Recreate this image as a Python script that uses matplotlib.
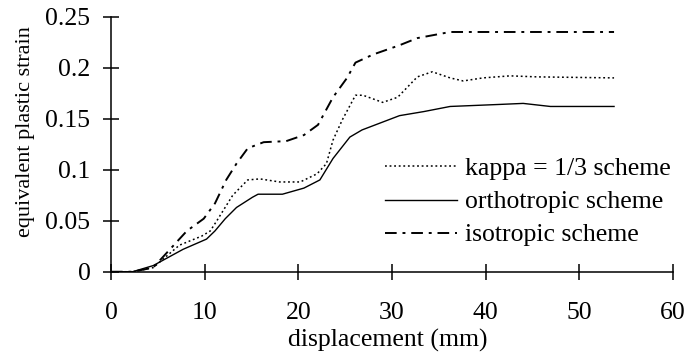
import matplotlib
matplotlib.use("Agg")
import matplotlib.pyplot as plt

# displacement (mm) / equivalent plastic strain
x_kappa = [0, 2.3, 4.5, 7.3, 9.7, 10.6, 11.3, 13.0, 14.6, 15.9, 18.0, 20.2, 22.0, 23.0,
           23.7, 24.7, 26.1, 26.9, 29.0, 30.6, 32.7, 34.3, 36.2, 37.6, 39.7, 42.6, 45.5, 53.7]
y_kappa = [0, 0, 0.004, 0.026, 0.035, 0.040, 0.050, 0.075, 0.090, 0.091, 0.088, 0.088, 0.096, 0.106,
           0.129, 0.149, 0.173, 0.173, 0.166, 0.171, 0.191, 0.196, 0.190, 0.187, 0.190, 0.192, 0.191, 0.190]

x_ortho = [0, 2.3, 4.5, 7.7, 10.2, 11.1, 12.2, 13.4, 15.1, 15.7, 18.3, 20.6, 22.3, 23.7,
           25.5, 26.8, 30.8, 33.4, 36.2, 41.5, 44.0, 46.9, 53.7]
y_ortho = [0, 0, 0.006, 0.022, 0.032, 0.040, 0.052, 0.063, 0.073, 0.076, 0.076, 0.082, 0.090, 0.111,
           0.132, 0.139, 0.153, 0.157, 0.162, 0.164, 0.165, 0.162, 0.162]

x_iso = [0, 2.3, 4.5, 6.3, 8.1, 9.9, 11.1, 12.3, 13.4, 14.6, 16.3, 18.7, 20.6, 22.1,
         23.7, 25.2, 26.1, 28.0, 30.8, 32.7, 36.2, 53.7]
y_iso = [0, 0, 0.004, 0.022, 0.040, 0.052, 0.067, 0.090, 0.106, 0.121, 0.127, 0.128, 0.134, 0.144,
         0.171, 0.190, 0.205, 0.213, 0.222, 0.229, 0.235, 0.235]

labels = ["kappa = 1/3 scheme", "orthotropic scheme", "isotropic scheme"]
xticks = [0, 10, 20, 30, 40, 50, 60]
yticks = [0, 0.05, 0.1, 0.15, 0.2, 0.25]
yticklabels = ['0', '0.05', '0.1', '0.15', '0.2', '0.25']

plt.rcParams['font.family'] = ['Liberation Serif', 'DejaVu Serif']
plt.rcParams['font.size'] = 18.5

fig = plt.figure(figsize=(6.88, 3.52), dpi=100)
ax = fig.add_axes([0.1613, 0.228, 0.817, 0.7246])

ax.plot(x_kappa, y_kappa, color='black', lw=1.1, linestyle=(0, (1.2, 1.8)), label=labels[0])
ax.plot(x_ortho, y_ortho, color='black', lw=1.0, linestyle='-', label=labels[1])
ax.plot(x_iso, y_iso, color='black', lw=1.4, linestyle=(0, (6, 3, 1.5, 3)), label=labels[2])

ax.set_xlim(0, 60)
ax.set_ylim(0, 0.25)
ax.set_xticks(xticks)
ax.set_yticks(yticks)
ax.set_yticklabels(yticklabels)

for s in ['top', 'right']:
    ax.spines[s].set_visible(False)
for s in ['left', 'bottom']:
    ax.spines[s].set_linewidth(1.1)
ax.tick_params(direction='inout', length=11.5, width=1.1)
ax.tick_params(axis='y', pad=9)
ax.tick_params(axis='x', pad=16)

ax.set_xlabel('displacement (mm)')
ax.xaxis.set_label_coords(0.492, -0.225)
ax.set_ylabel('equivalent plastic strain', fontsize=16)
ax.yaxis.set_label_coords(-0.135, 0.548)

ax.legend(loc='center left', bbox_to_anchor=(385 / 688, 1 - 202 / 352),
          bbox_transform=fig.transFigure, frameon=False, borderpad=0, borderaxespad=0,
          handlelength=2.8, handletextpad=0.3, labelspacing=0.39)

fig.savefig('out.png', dpi=100)
